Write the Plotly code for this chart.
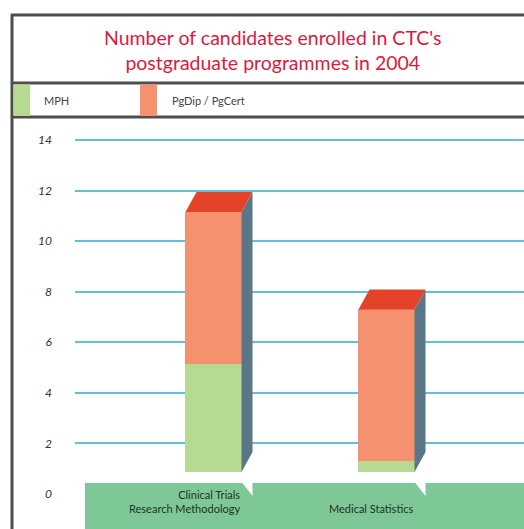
import plotly.graph_objects as go

# data
categories = ["Clinical Trials<br>Research Methodology", "Medical Statistics"]
mph = [5, 0.5]
pgdip = [7, 7]
y_ticks = [0, 2, 4, 6, 8, 10, 12, 14]

W, H = 524, 529
green = "#b6da92"
orange = "#f5916e"
top_red = "#e4432a"
side = "#5b7687"
band = "#7ec897"
grid = "#62c0dc"
frame = "#4d4d4d"

def py(p):
    # pixel row -> paper y
    return 1 - p / H

def px(p):
    return p / W

x = list(range(len(categories)))
bw = 0.324
# pseudo 3d depth in data units
dx = 11 / 173
dy = 20 / 21.67

fig = go.Figure()

fig.add_trace(go.Scatter(x=[None], y=[None], yaxis="y", showlegend=False, hoverinfo="skip"))
fig.add_trace(go.Bar(x=x, y=mph, width=bw, marker=dict(color=green, line=dict(width=0)),
                     yaxis="y2", name="MPH", showlegend=False))
fig.add_trace(go.Bar(x=x, y=pgdip, width=bw, marker=dict(color=orange, line=dict(width=0)),
                     yaxis="y2", name="PgDip / PgCert", showlegend=False))

shapes = []
annotations = []
for i in x:
    tot = mph[i] + pgdip[i]
    xl, xr = i - bw / 2, i + bw / 2
    # side face
    shapes.append(dict(type="path", xref="x", yref="y2", layer="above",
                       path=f"M{xr},0 L{xr+dx},{dy} L{xr+dx},{tot+dy} L{xr},{tot} Z",
                       fillcolor=side, line=dict(width=0)))
    # top face
    shapes.append(dict(type="path", xref="x", yref="y2", layer="above",
                       path=f"M{xl},{tot} L{xl+dx},{tot+dy} L{xr+dx},{tot+dy} L{xr},{tot} Z",
                       fillcolor=top_red, line=dict(width=0)))

# green category band
shapes.append(dict(type="rect", xref="paper", yref="paper", x0=px(85), x1=1, y0=0, y1=py(483),
                   fillcolor=band, line=dict(width=0), layer="above"))
for i in x:
    xr = i + bw / 2
    shapes.append(dict(type="path", xref="x", yref="paper", layer="above",
                       path=f"M{xr},{py(482)} L{xr+dx},{py(482)} L{xr+dx},{py(496)} Z",
                       fillcolor="white", line=dict(width=0)))
    annotations.append(dict(x=xr, y=py(517), xref="x", yref="paper", text=categories[i],
                            showarrow=False, xanchor="right", yanchor="bottom", align="right",
                            font=dict(family="Lato", size=11, color="#1d3326")))

# frame lines
for yy in [15, 83, 117]:
    shapes.append(dict(type="line", xref="paper", yref="paper", x0=px(11), x1=1, y0=py(yy), y1=py(yy),
                       line=dict(color=frame, width=3)))
shapes.append(dict(type="line", xref="paper", yref="paper", x0=px(12), x1=px(12), y0=py(14), y1=0,
                   line=dict(color=frame, width=3)))

# legend swatches
shapes.append(dict(type="rect", xref="paper", yref="paper", x0=px(13.5), x1=px(30), y0=py(116), y1=py(84.5),
                   fillcolor=green, line=dict(width=0)))
shapes.append(dict(type="rect", xref="paper", yref="paper", x0=px(140), x1=px(157), y0=py(116), y1=py(84.5),
                   fillcolor=orange, line=dict(width=0)))
annotations.append(dict(x=px(42), y=py(100), xref="paper", yref="paper", text="MPH", showarrow=False,
                        xanchor="left", yanchor="middle", font=dict(family="Lato", size=11, color="#444444")))
annotations.append(dict(x=px(170), y=py(100), xref="paper", yref="paper", text="PgDip / PgCert",
                        showarrow=False, xanchor="left", yanchor="middle",
                        font=dict(family="Lato", size=11, color="#444444")))

# title
annotations.append(dict(x=px(273), y=py(50), xref="paper", yref="paper",
                        text="Number of candidates enrolled in CTC's<br>postgraduate programmes in 2004",
                        showarrow=False, xanchor="center", yanchor="middle",
                        font=dict(family="Lato", size=19.5, color="#e3173c")))

# y axis: 0 at pixel 494, 14 at pixel 140, padded a bit so the top grid line shows
ppu = (494 - 140) / 14
y_top_px = 130
y_range = [0, (494 - y_top_px) / ppu]
# y2 range so bar base sits at pixel 472 with 21.67 px per unit
s = 21.67
y2_range = [(472 - 494) / s, (472 - y_top_px) / s]

fig.update_layout(
    width=W, height=H,
    margin=dict(l=0, r=0, t=0, b=0, autoexpand=False),
    paper_bgcolor="white", plot_bgcolor="white",
    barmode="stack",
    xaxis=dict(domain=[px(75), 1], range=[(75 - 213.5) / 173, (524 - 213.5) / 173],
               showgrid=False, zeroline=False, showticklabels=False, automargin=False),
    yaxis=dict(domain=[py(494), py(y_top_px)], range=y_range, tickvals=y_ticks,
               showgrid=True, gridcolor=grid, gridwidth=1.5, zeroline=False,
               ticklabelstandoff=22, ticks="", automargin=False,
               tickfont=dict(family="Lato", size=12, color="#333333", style="italic")),
    yaxis2=dict(domain=[py(494), py(y_top_px)], range=y2_range, overlaying="y",
                showgrid=False, zeroline=False, showticklabels=False, automargin=False),
    shapes=shapes,
    annotations=annotations,
    bargap=0,
)

# drop the default page margin so the figure sits at the window's top-left corner
fig.write_html("out.html", config={"displayModeBar": False},
               post_script="document.body.style.margin='0';")
